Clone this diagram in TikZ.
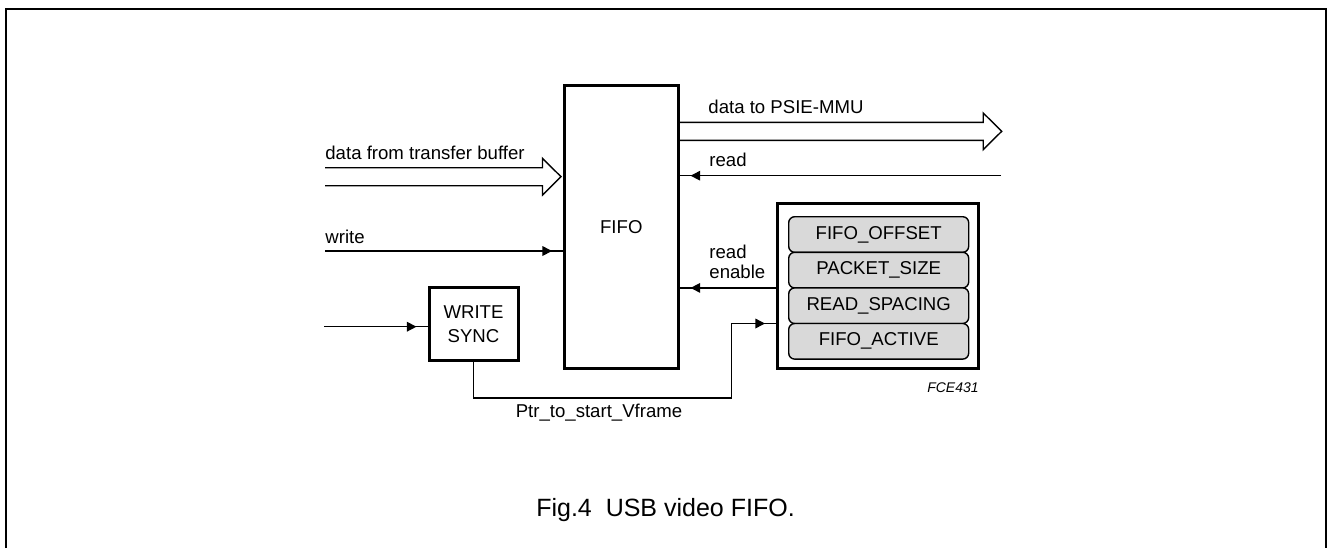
\documentclass[tikz,border=0pt]{standalone}
\usepackage{fontspec}
\setmainfont{Liberation Sans}
\usetikzlibrary{arrows.meta, calc, positioning, decorations.markings}

% open bus arrow from tail #1 to tip #2 (horizontal, left to right)
\newcommand{\busarrow}[2]{%
  \draw[bus] ($(#1)+(0,-9)$) -- ($(#2)+(-18.5,-9)$) -- ($(#2)+(-18.5,-18.3)$)
    -- (#2) -- ($(#2)+(-18.5,18.3)$) -- ($(#2)+(-18.5,9)$) -- ($(#1)+(0,9)$);}

\begin{document}
\begin{tikzpicture}[
    x=0.5pt, y=-0.5pt,
    font=\fontsize{9.3}{12}\selectfont,
    block/.style={draw, line width=1.5pt, inner sep=0pt, align=center},
    regitem/.style={draw, line width=0.7pt, fill=gray!30, rounded corners=3pt,
      minimum width=90pt, minimum height=17.8pt, inner sep=0pt, outer sep=0pt},
    bus/.style={line width=0.7pt},
    sig/.style={line width=0.7pt,
      decoration={markings, mark=at position -5.5pt with {\arrow{Triangle[length=4.8pt, width=4.8pt]}}},
      postaction={decorate}},
    lbl/.style={anchor=base west, inner sep=0pt}
  ]

  \useasboundingbox (0,0) rectangle (1327,548);
  \draw[line width=1pt] (5.5,548) -- (5.5,8.7) -- (1325.5,8.7) -- (1325.5,548);

  % blocks
  \node[block, minimum width=56.75pt, minimum height=141.5pt] (fifo) at (621.3,227) {FIFO};
  \node[block, minimum width=44.5pt, minimum height=36.25pt] (sync) at (473.5,324.2) {WRITE\\SYNC};
  \node[block, minimum width=100.5pt, minimum height=82.5pt] (reg) at (878,286) {};

  \node[regitem] (offset) at (878.7,234.5) {FIFO\_OFFSET};
  \node[regitem, below=0pt of offset] (psize) {PACKET\_SIZE};
  \node[regitem, below=0pt of psize] (rspace) {READ\_SPACING};
  \node[regitem, below=0pt of rspace] (active) {FIFO\_ACTIVE};

  % connectors
  \coordinate (busin) at (325,176.7);
  \coordinate (busintip) at (561,176.7);
  \busarrow{busin}{busintip}
  \coordinate (busout) at (679,131.3);
  \coordinate (busouttip) at (1001.7,131.3);
  \busarrow{busout}{busouttip}

  \coordinate (wr) at (325,251);
  \draw[sig] (wr) -- (wr -| fifo.west);
  \coordinate (rd) at (1001,175.7);
  \draw[sig] (rd) -- (rd -| fifo.east);
  \draw[sig] (reg.west |- psize.south) -- (fifo.east |- psize.south);
  \coordinate (syncin) at (324,326.7);
  \draw[sig] (syncin) -- (syncin -| sync.west);
  \coordinate (bend) at (731.6,398);
  \draw[sig] (sync.south) |- (bend) |- (reg.west |- rspace.south);

  % labels
  \node[lbl] (businlbl) at (325,159.3) {data from transfer buffer};
  \node[lbl] (wrlbl) at (325,243.3) {write};
  \node[lbl] (busoutlbl) at (708,113.3) {data to PSIE-MMU};
  \node[lbl] (rdlbl) at (709,166.7) {read};
  \node[lbl, align=left, font=\fontsize{9.3}{10}\selectfont] (renlbl) at (709,278.3) {read\\enable};
  \node[anchor=base, inner sep=0pt] (ptrlbl) at (599,417.7) {Ptr\_to\_start\_Vframe};
  \node[anchor=base east, inner sep=0pt, font=\fontsize{7}{8}\selectfont\itshape] (code) at (979,392.3) {FCE431};
  \node[anchor=base, inner sep=0pt, font=\fontsize{12.5}{14}\selectfont] (caption) at (665.5,516.7) {Fig.4~~USB video FIFO.};

\end{tikzpicture}
\end{document}
